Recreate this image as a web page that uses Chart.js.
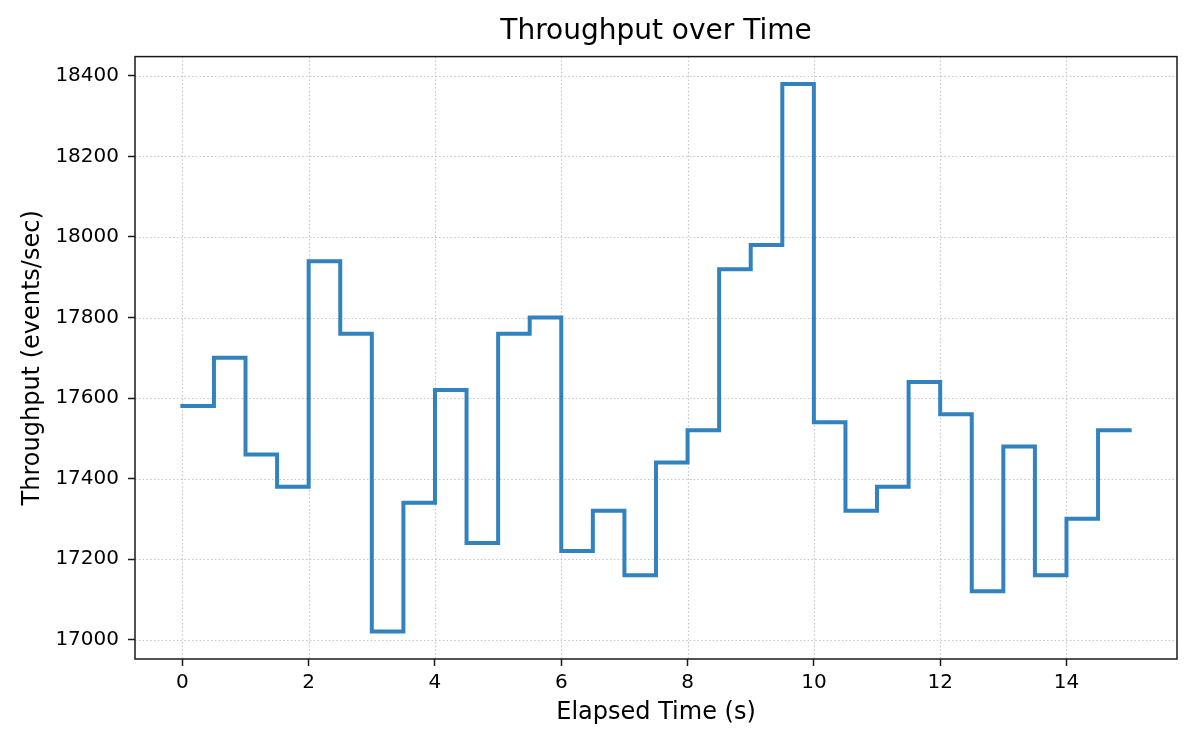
<!DOCTYPE html>
<html>
<head>
<meta charset="utf-8">
<script src="https://cdn.jsdelivr.net/npm/chart.js@4"></script>
<style>
  html, body { margin: 0; padding: 0; background: #ffffff; }
  #wrap { width: 1200px; height: 750px; position: relative; }
</style>
</head>
<body>
<div id="wrap"><canvas id="c" width="1200" height="750"></canvas></div>
<script>
// ---- data ----
const timeSec = [0, 0.5, 1, 1.5, 2, 2.5, 3, 3.5, 4, 4.5, 5, 5.5, 6, 6.5, 7, 7.5,
                 8, 8.5, 9, 9.5, 10, 10.5, 11, 11.5, 12, 12.5, 13, 13.5, 14, 14.5, 15];
const throughput = [17580, 17700, 17460, 17380, 17940, 17760, 17020, 17340, 17620, 17240,
                    17760, 17800, 17220, 17320, 17160, 17440, 17520, 17920, 17980, 18380,
                    17540, 17320, 17380, 17640, 17560, 17120, 17480, 17160, 17300, 17520, 17520];
const xTickValues = [0, 2, 4, 6, 8, 10, 12, 14];
const yTickValues = [17000, 17200, 17400, 17600, 17800, 18000, 18200, 18400];
const chartTitle = 'Throughput over Time';
const xLabel = 'Elapsed Time (s)';
const yLabel = 'Throughput (events/sec)';

const FONT = "'DejaVu Sans', 'Liberation Sans', sans-serif";

// dotted grid at the scales' tick positions
const gridPlugin = {
  id: 'dotGrid',
  beforeDatasetsDraw(chart) {
    const { ctx, chartArea: a, scales } = chart;
    ctx.save();
    ctx.strokeStyle = '#c8c8c8';
    ctx.lineWidth = 1.2;
    ctx.setLineDash([1.6, 2.2]);
    scales.x.ticks.forEach(t => {
      const px = Math.round(scales.x.getPixelForValue(t.value)) + 0.5;
      ctx.beginPath(); ctx.moveTo(px, a.top); ctx.lineTo(px, a.bottom); ctx.stroke();
    });
    scales.y.ticks.forEach(t => {
      const py = Math.round(scales.y.getPixelForValue(t.value)) + 0.5;
      ctx.beginPath(); ctx.moveTo(a.left, py); ctx.lineTo(a.right, py); ctx.stroke();
    });
    ctx.restore();
  },
  afterDatasetsDraw(chart) {
    const { ctx, chartArea: a } = chart;
    ctx.save();
    ctx.strokeStyle = '#1a1a1a';
    ctx.lineWidth = 1.5;
    ctx.setLineDash([]);
    ctx.strokeRect(a.left, a.top, a.right - a.left, a.bottom - a.top);
    ctx.restore();
  }
};

const tickGrid = {
  drawOnChartArea: false,
  drawTicks: true,
  tickLength: 7,
  tickColor: '#1a1a1a',
  tickWidth: 1.5,
  tickBorderDash: [],
  color: '#1a1a1a'
};

new Chart(document.getElementById('c'), {
  type: 'line',
  data: {
    datasets: [{
      data: timeSec.map((t, i) => ({ x: t, y: throughput[i] })),
      stepped: 'before',
      borderColor: '#3182bd',
      borderWidth: 4,
      pointRadius: 0,
      fill: false,
      borderJoinStyle: 'miter',
      borderCapStyle: 'square'
    }]
  },
  options: {
    responsive: false,
    animation: false,
    devicePixelRatio: 1,
    layout: { padding: { left: 0, right: 23, top: 0, bottom: 0 } },
    plugins: {
      legend: { display: false },
      tooltip: { enabled: false },
      title: {
        display: true,
        fullSize: false,
        text: chartTitle,
        color: '#000',
        font: { family: FONT, size: 28, weight: 'normal', lineHeight: 1.2 },
        padding: { top: 15, bottom: 8 }
      }
    },
    scales: {
      x: {
        type: 'linear',
        min: -0.75,
        max: 15.75,
        afterBuildTicks(scale) { scale.ticks = xTickValues.map(v => ({ value: v })); },
        afterFit(scale) { scale.height = 91; },
        ticks: {
          color: '#000',
          font: { family: FONT, size: 20 },
          padding: 5,
          maxRotation: 0,
          autoSkip: false,
          callback: v => String(v)
        },
        grid: tickGrid,
        border: { display: false },
        title: {
          display: true,
          text: xLabel,
          color: '#000',
          font: { family: FONT, size: 24, lineHeight: 1.2 },
          padding: { top: 0, bottom: 23 }
        }
      },
      y: {
        type: 'linear',
        min: 16952,
        max: 18448,
        afterBuildTicks(scale) { scale.ticks = yTickValues.map(v => ({ value: v })); },
        afterFit(scale) { scale.width = 135; },
        ticks: {
          color: '#000',
          font: { family: FONT, size: 20 },
          padding: 9,
          autoSkip: false,
          callback: v => String(v)
        },
        grid: tickGrid,
        border: { display: false },
        title: {
          display: true,
          text: yLabel,
          color: '#000',
          font: { family: FONT, size: 24, lineHeight: 1.2 },
          padding: { top: 18, bottom: 0 }
        }
      }
    }
  },
  plugins: [gridPlugin]
});
</script>
</body>
</html>
